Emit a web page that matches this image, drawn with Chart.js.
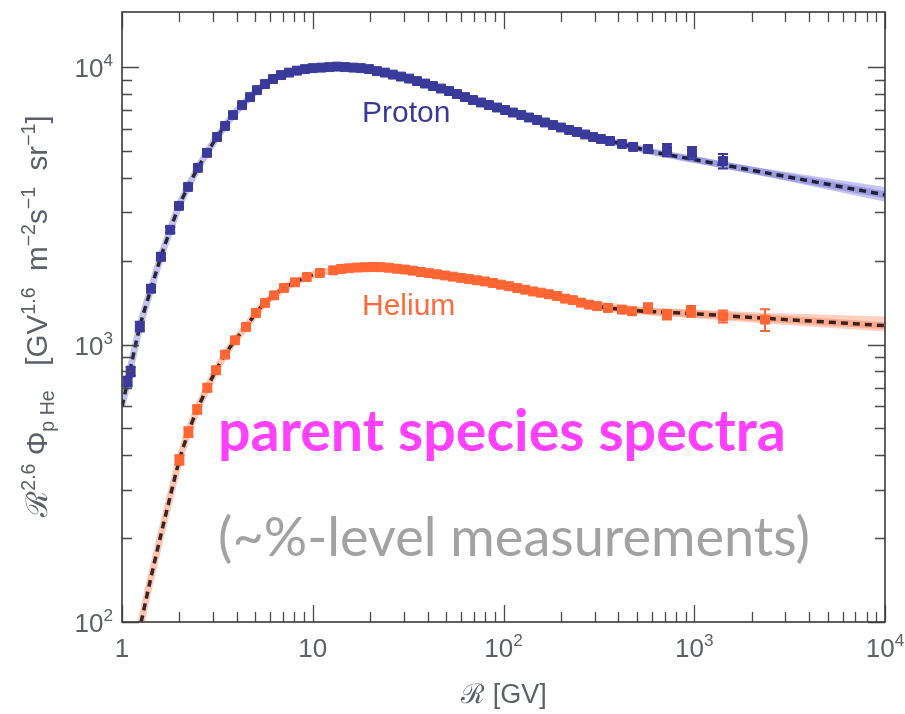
<!DOCTYPE html>
<html>
<head>
<meta charset="utf-8">
<script src="https://cdn.jsdelivr.net/npm/chart.js@4.4.0/dist/chart.umd.min.js"></script>
<style>
    html, body { margin: 0; padding: 0; background: #fff; }
    #wrap { width: 905px; height: 714px; }
</style>
</head>
<body>
<div id="wrap"><canvas id="spectra" width="905" height="714"></canvas></div>
<script>
// measured points, rigidity in GV, flux x R^2.6
var protonR = [1.07, 1.11, 1.24, 1.42, 1.60, 1.79, 1.99, 2.22, 2.50, 2.79,
    3.15, 3.47, 3.82, 4.26, 4.69, 5.10, 5.62, 6.19, 6.82, 7.51,
    8.27, 9.11, 10.0, 11.1, 12.2, 13.4, 14.8, 16.3, 17.9, 19.7,
    21.7, 23.9, 26.3, 29.0, 32.0, 35.2, 38.8, 42.7, 47.0, 51.8,
    57.0, 62.8, 69.2, 76.2, 83.9, 92.5, 102, 112, 124, 136,
    150, 165, 182, 200, 221, 243, 268, 295, 324, 362,
    418, 478, 572, 720, 973, 1415];
var protonFlux = [736, 800, 1161, 1590, 2073, 2592, 3162, 3700, 4335, 4910,
    5600, 6135, 6715, 7295, 7795, 8260, 8690, 9060, 9359, 9555,
    9713, 9836, 9917, 9959, 10000, 10042, 10000, 9959, 9917, 9836,
    9674, 9555, 9398, 9244, 9092, 8906, 8724, 8545, 8370, 8198,
    7997, 7800, 7610, 7454, 7301, 7151, 7004, 6860, 6720, 6582,
    6447, 6315, 6185, 6058, 5934, 5837, 5717, 5600, 5508, 5418,
    5285, 5155, 5070, 5028, 4905, 4590];
var protonErrR = [1.07, 1.11, 1.24, 1.42, 1.60, 1.79, 1.99, 572, 720, 973, 1415];
var protonErrPct = [4, 4, 4, 3, 3, 2.5, 2, 2.5, 5, 5, 6];

var heliumR = [2.00, 2.23, 2.48, 2.80, 3.11, 3.47, 3.91, 4.47, 5.04, 5.62,
    6.27, 7.07, 8.07, 9.30, 10.9, 12.8, 14.1, 15.5, 17.1, 18.8,
    20.7, 22.8, 25.1, 27.7, 30.5, 33.5, 36.9, 40.7, 44.8, 49.4,
    54.4, 59.9, 65.9, 72.6, 80.0, 88.1, 97.0, 107, 118, 130,
    143, 157, 173, 191, 210, 231, 255, 281, 309, 353,
    418, 472, 572, 720, 962, 1415, 2349];
var heliumFlux = [384, 484, 584, 699, 808, 920, 1036, 1158, 1300, 1413,
    1504, 1600, 1676, 1752, 1811, 1851, 1873, 1884, 1895, 1900,
    1903, 1900, 1892, 1876, 1864, 1846, 1826, 1808, 1792, 1774,
    1757, 1739, 1722, 1705, 1688, 1667, 1644, 1623, 1598, 1577,
    1554, 1538, 1518, 1496, 1464, 1446, 1416, 1393, 1375, 1355,
    1336, 1318, 1355, 1282, 1318, 1264, 1230];
var heliumErrR = [2.00, 2.23, 2.48, 2.80, 3.11, 3.47, 572, 720, 962, 1415, 2349];
var heliumErrPct = [4, 4, 3.5, 3, 3, 2.5, 4, 4, 4.5, 5, 9];

// fitted model curves
var protonModelR = [1.00, 1.07, 1.24, 1.42, 1.60, 1.79, 1.99, 2.22, 2.50, 2.79,
    3.15, 3.47, 3.82, 4.26, 4.69, 5.10, 5.62, 6.19, 6.82, 7.51,
    8.27, 9.11, 10.0, 12.2, 13.4, 14.8, 17.9, 21.7, 26.3, 32.0,
    38.8, 47.0, 57.0, 69.2, 83.9, 102, 124, 150, 182, 221,
    268, 324, 418, 478, 608, 1000, 2500, 10000];
var protonModel = [600, 736, 1161, 1590, 2073, 2592, 3162, 3700, 4335, 4910,
    5600, 6135, 6715, 7295, 7795, 8260, 8690, 9060, 9359, 9555,
    9713, 9836, 9917, 10000, 10030, 10000, 9917, 9674, 9398, 9092,
    8724, 8370, 7997, 7610, 7301, 7004, 6720, 6447, 6185, 5934,
    5717, 5508, 5285, 5155, 4946, 4643, 4132, 3464];
var heliumModelR = [1.26, 1.40, 1.58, 1.79, 2.00, 2.23, 2.48, 2.80, 3.11, 3.47,
    3.91, 4.47, 5.04, 5.62, 6.27, 7.07, 8.07, 9.30, 10.9, 12.8,
    15.5, 18.8, 22.8, 27.7, 33.5, 40.7, 49.4, 59.9, 72.6, 88.1,
    107, 130, 157, 191, 231, 281, 353, 472, 640, 1000,
    2500, 10000];
var heliumModel = [100, 139, 199, 284, 384, 484, 584, 699, 808, 920,
    1036, 1158, 1300, 1413, 1504, 1600, 1676, 1752, 1811, 1851,
    1884, 1900, 1900, 1876, 1846, 1808, 1774, 1739, 1705, 1667,
    1623, 1577, 1538, 1496, 1446, 1393, 1355, 1328, 1312, 1291,
    1241, 1170];

// uncertainty bands of the fits at high rigidity
var protonBandR = [300, 600, 1000, 2500, 10000];
var protonBandLow = [5486, 4845, 4530, 4004, 3269];
var protonBandHigh = [5717, 5049, 4761, 4279, 3701];
var heliumBandR = [300, 600, 1000, 2500, 10000];
var heliumBandLow = [1353, 1272, 1243, 1186, 1114];
var heliumBandHigh = [1434, 1355, 1339, 1299, 1261];

// axes
var xRange = [1, 10000];
var yRange = [100, 15800];
var xTickValues = [1, 10, 100, 1000, 10000];
var xTickBase = ['1', '10', '10', '10', '10'];
var xTickExp = ['', '', '2', '3', '4'];
var yTickValues = [100, 1000, 10000];
var yTickBase = ['10', '10', '10'];
var yTickExp = ['2', '3', '4'];

var xTitle = [{ t: '\u211B [GV]' }];
var yTitle = [{ t: '\u211B' }, { t: '2.6', k: 'sup' }, { t: ' \u03A6' }, { t: 'p He', k: 'sub' },
    { t: '   [GV' }, { t: '1.6', k: 'sup' }, { t: '  m' }, { t: '\u22122', k: 'sup' },
    { t: 's' }, { t: '\u22121', k: 'sup' }, { t: '  sr' }, { t: '\u22121', k: 'sup' }, { t: ']' }];

var PROTON = '#3a3a9a';
var HELIUM = '#ff6633';
var FAMILY = '"Liberation Sans", Arial, sans-serif';

let xy = function (xs, ys) {
    return xs.map(function (x, i) { return { x: x, y: ys[i] }; });
}

let fontFor = function (part, size) {
    return (part.k ? size * 0.66 : size) + 'px ' + FAMILY;
}

let richWidth = function (ctx, parts, size) {
    var w = 0;
    for (let p of parts) {
        ctx.font = fontFor(p, size);
        w += ctx.measureText(p.t).width;
    }
    return w;
}

// x is the start of the run, y its baseline
let drawRich = function (ctx, parts, x, y, size) {
    for (let p of parts) {
        ctx.font = fontFor(p, size);
        var dy = 0;
        if (p.k == 'sup') dy = -size * 0.42;
        if (p.k == 'sub') dy = size * 0.24;
        ctx.fillText(p.t, x, y + dy);
        x += ctx.measureText(p.t).width;
    }
}

let tickParts = function (base, exp) {
    var parts = [{ t: base }];
    if (exp) parts.push({ t: exp, k: 'sup' });
    return parts;
}

let fitSize = function (ctx, text, weight, family, width) {
    ctx.font = weight + ' 100px ' + family;
    return 100 * width / ctx.measureText(text).width;
}

// vertical error bars with caps for the flagged points
const errorBars = {
    id: 'errorBars',
    afterDatasetsDraw(chart) {
        const ctx = chart.ctx;
        const xs = chart.scales.x, ys = chart.scales.y;
        let sets = [
            [protonR, protonFlux, protonErrR, protonErrPct, PROTON],
            [heliumR, heliumFlux, heliumErrR, heliumErrPct, HELIUM]
        ];
        ctx.save();
        ctx.lineWidth = 2;
        for (let s of sets) {
            ctx.strokeStyle = s[4];
            s[2].forEach(function (r, j) {
                let i = s[0].indexOf(r);
                if (i < 0) return;
                let v = s[1][i], e = s[3][j] / 100;
                let px = xs.getPixelForValue(r);
                let top = ys.getPixelForValue(v * (1 + e));
                let bot = ys.getPixelForValue(v * (1 - e));
                ctx.beginPath();
                ctx.moveTo(px, top); ctx.lineTo(px, bot);
                ctx.moveTo(px - 5, top); ctx.lineTo(px + 5, top);
                ctx.moveTo(px - 5, bot); ctx.lineTo(px + 5, bot);
                ctx.stroke();
            });
        }
        ctx.restore();
    }
};

// Mathematica style frame: inward ticks on all sides, labels, titles, notes
const frame = {
    id: 'frame',
    afterDraw(chart) {
        const ctx = chart.ctx;
        const xs = chart.scales.x, ys = chart.scales.y;
        const a = chart.chartArea;
        ctx.save();

        ctx.strokeStyle = '#4a4a4a';
        ctx.lineWidth = 1.3;
        ctx.beginPath();
        for (let e = 0; e <= 4; e++) {
            for (let k = 1; k < 10; k++) {
                let v = k * Math.pow(10, e);
                if (v > xRange[1]) break;
                let px = Math.round(xs.getPixelForValue(v)) + 0.5;
                let len = k == 1 ? 17 : 10;
                ctx.moveTo(px, a.bottom); ctx.lineTo(px, a.bottom - len);
                ctx.moveTo(px, a.top); ctx.lineTo(px, a.top + len);
            }
        }
        for (let e = 2; e <= 4; e++) {
            for (let k = 1; k < 10; k++) {
                let v = k * Math.pow(10, e);
                if (v > yRange[1]) break;
                let py = Math.round(ys.getPixelForValue(v)) + 0.5;
                let len = k == 1 ? 17 : 10;
                ctx.moveTo(a.left, py); ctx.lineTo(a.left + len, py);
                ctx.moveTo(a.right, py); ctx.lineTo(a.right - len, py);
            }
        }
        ctx.stroke();

        ctx.lineWidth = 1.6;
        ctx.strokeStyle = '#3a3a3a';
        ctx.strokeRect(a.left, a.top, a.right - a.left, a.bottom - a.top);

        // tick labels
        ctx.fillStyle = '#5c6068';
        ctx.textBaseline = 'alphabetic';
        ctx.textAlign = 'left';
        xTickValues.forEach(function (v, i) {
            let parts = tickParts(xTickBase[i], xTickExp[i]);
            let w = richWidth(ctx, parts, 26);
            drawRich(ctx, parts, xs.getPixelForValue(v) - w / 2, a.bottom + 35, 26);
        });
        yTickValues.forEach(function (v, i) {
            let parts = tickParts(yTickBase[i], yTickExp[i]);
            let w = richWidth(ctx, parts, 26);
            drawRich(ctx, parts, 113 - w, ys.getPixelForValue(v) + 10, 26);
        });

        // axis titles
        let tw = richWidth(ctx, xTitle, 27);
        drawRich(ctx, xTitle, 504 - tw / 2, 703, 27);

        let size = 27;
        size = size * 402 / richWidth(ctx, yTitle, size);
        let yw = richWidth(ctx, yTitle, size);
        ctx.save();
        ctx.translate(47, 316);
        ctx.rotate(-Math.PI / 2);
        drawRich(ctx, yTitle, -yw / 2, 0, size);
        ctx.restore();

        // curve names
        ctx.font = '30px ' + FAMILY;
        ctx.fillStyle = '#3a3a96';
        ctx.fillText('Proton', 362, 122);
        ctx.fillStyle = '#ff6a3d';
        ctx.fillText('Helium', 362, 315);

        // slide notes
        let note1 = 'parent species spectra';
        let s1 = fitSize(ctx, note1, 'bold', 'Lato', 568);
        ctx.font = 'bold ' + s1 + 'px Lato';
        ctx.fillStyle = '#ff40ff';
        ctx.fillText(note1, 218, 451);

        let note2 = '(~%-level measurements)';
        let s2 = fitSize(ctx, note2, 'normal', 'Lato', 592);
        ctx.font = 'normal ' + s2 + 'px Lato';
        ctx.fillStyle = '#a2a2a2';
        ctx.fillText(note2, 218, 556);

        ctx.restore();
    }
};

let ctx = document.getElementById('spectra').getContext('2d');

new Chart(ctx, {
    type: 'line',
    data: {
        datasets: [{
            label: 'proton band low',
            data: xy(protonBandR, protonBandLow),
            borderWidth: 0,
            pointRadius: 0,
            fill: false,
            order: 4
        }, {
            label: 'proton band',
            data: xy(protonBandR, protonBandHigh),
            borderWidth: 0,
            pointRadius: 0,
            backgroundColor: 'rgba(90,90,210,0.35)',
            fill: '-1',
            order: 4
        }, {
            label: 'helium band low',
            data: xy(heliumBandR, heliumBandLow),
            borderWidth: 0,
            pointRadius: 0,
            fill: false,
            order: 4
        }, {
            label: 'helium band',
            data: xy(heliumBandR, heliumBandHigh),
            borderWidth: 0,
            pointRadius: 0,
            backgroundColor: 'rgba(255,120,80,0.35)',
            fill: '-1',
            order: 4
        }, {
            label: 'proton fit glow',
            data: xy(protonModelR, protonModel),
            borderColor: 'rgba(80,80,200,0.35)',
            borderWidth: 7,
            pointRadius: 0,
            tension: 0.3,
            order: 3
        }, {
            label: 'helium fit glow',
            data: xy(heliumModelR, heliumModel),
            borderColor: 'rgba(255,110,60,0.4)',
            borderWidth: 7,
            pointRadius: 0,
            tension: 0.3,
            order: 3
        }, {
            label: 'proton fit',
            data: xy(protonModelR, protonModel),
            borderColor: 'rgba(10,10,25,0.85)',
            borderWidth: 3.5,
            borderDash: [7, 5],
            pointRadius: 0,
            tension: 0.3,
            order: 2
        }, {
            label: 'helium fit',
            data: xy(heliumModelR, heliumModel),
            borderColor: 'rgba(20,10,10,0.85)',
            borderWidth: 3.5,
            borderDash: [7, 5],
            pointRadius: 0,
            tension: 0.3,
            order: 2
        }, {
            label: 'Proton',
            data: xy(protonR, protonFlux),
            showLine: false,
            pointStyle: 'rect',
            pointRadius: 6.3,
            pointBackgroundColor: PROTON,
            pointBorderColor: PROTON,
            pointBorderWidth: 1,
            order: 1
        }, {
            label: 'Helium',
            data: xy(heliumR, heliumFlux),
            showLine: false,
            pointStyle: 'rect',
            pointRadius: 6.3,
            pointBackgroundColor: HELIUM,
            pointBorderColor: HELIUM,
            pointBorderWidth: 1,
            order: 1
        }]
    },
    options: {
        responsive: false,
        animation: false,
        layout: {
            padding: { left: 122, right: 20, top: 12, bottom: 92 }
        },
        plugins: {
            legend: { display: false },
            tooltip: { enabled: false }
        },
        scales: {
            x: {
                type: 'logarithmic',
                min: xRange[0],
                max: xRange[1],
                bounds: 'data',
                display: false
            },
            y: {
                type: 'logarithmic',
                min: yRange[0],
                max: yRange[1],
                bounds: 'data',
                display: false
            }
        }
    },
    plugins: [errorBars, frame]
});
</script>
</body>
</html>
